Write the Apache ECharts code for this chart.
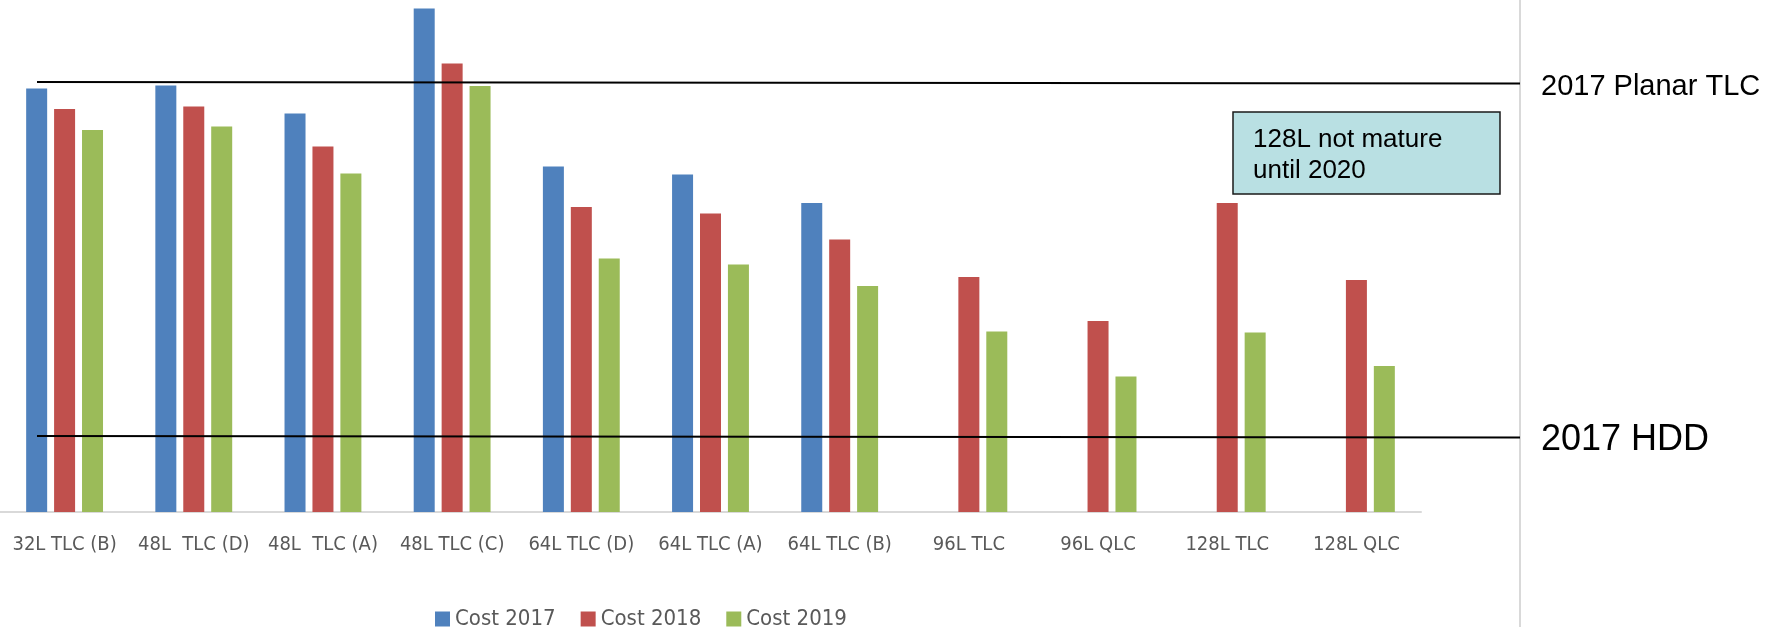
<!DOCTYPE html>
<html>
<head>
<meta charset="utf-8">
<script src="https://cdn.jsdelivr.net/npm/echarts@6/dist/echarts.min.js"></script>
<style>
  html, body { margin: 0; padding: 0; background: #fff; }
  #chart { width: 1779px; height: 627px; }
</style>
</head>
<body>
<div id="chart"></div>
<script>
// categories and values (relative cost)
var categories = ['32L TLC (B)', '48L  TLC (D)', '48L  TLC (A)', '48L TLC (C)', '64L TLC (D)',
                  '64L TLC (A)', '64L TLC (B)', '96L TLC', '96L QLC', '128L TLC', '128L QLC'];
var cost2017 = [84.7, 85.3, 79.7, 100.7, 69.1, 67.5, 61.8, null, null, null, null];
var cost2018 = [80.6, 81.1, 73.1, 89.7, 61.0, 59.7, 54.5, 47.0, 38.2, 61.8, 46.4];
var cost2019 = [76.4, 77.1, 67.7, 85.2, 50.7, 49.5, 45.2, 36.1, 27.1, 35.9, 29.2];

// reference levels (left end / right end, the lines are drawn slightly tilted)
var refNames = ['2017 Planar TLC', '2017 HDD'];
var refStart = [86.0, 15.2];
var refEnd = [85.7, 14.9];
var noteText = '128L not mature\nuntil 2020';

var labelFont = '"Liberation Sans Narrow", "DejaVu Sans Condensed", "Liberation Sans", sans-serif';
var myChart = echarts.init(document.getElementById('chart'));

myChart.setOption({
    animation: false,
    color: ['#4f81bd', '#c0504d', '#9bbb59'],
    grid: { left: 0, right: 358, top: 2, bottom: 115, containLabel: false, outerBoundsMode: 'none' },
    legend: {
        left: 430,
        top: 603,
        icon: 'rect',
        itemWidth: 15,
        itemHeight: 15,
        itemGap: 25,
        textStyle: { color: '#595959', fontSize: 22, fontFamily: labelFont },
        data: ['Cost 2017', 'Cost 2018', 'Cost 2019']
    },
    xAxis: {
        type: 'category',
        data: categories,
        axisLine: { lineStyle: { color: '#d9d9d9', width: 2 } },
        axisTick: { show: false },
        axisLabel: { color: '#595959', fontSize: 20, fontFamily: labelFont, margin: 23, interval: 0 }
    },
    yAxis: {
        type: 'value',
        min: 0,
        max: 102,
        show: false,
        splitLine: { show: false }
    },
    series: [
        { name: 'Cost 2017', type: 'bar', barWidth: 21, barGap: '33%', data: cost2017 },
        { name: 'Cost 2018', type: 'bar', barWidth: 21, barGap: '33%', data: cost2018 },
        { name: 'Cost 2019', type: 'bar', barWidth: 21, barGap: '33%', data: cost2019 }
    ]
});

// reference lines through the y scale, plus labels and note box
var lineX0 = 37, lineX1 = 1520;
var elements = [
    { type: 'line', shape: { x1: 1520, y1: 0, x2: 1520, y2: 627 }, style: { stroke: '#d9d9d9', lineWidth: 2 } }
];
var labelSizes = [29, 36];
for (var i = 0; i < refNames.length; i++) {
    var y0 = myChart.convertToPixel({ yAxisIndex: 0 }, refStart[i]);
    var y1 = myChart.convertToPixel({ yAxisIndex: 0 }, refEnd[i]);
    elements.push({ type: 'line', z: 10, shape: { x1: lineX0, y1: y0, x2: lineX1, y2: y1 },
                    style: { stroke: '#000', lineWidth: 2 } });
    elements.push({ type: 'text', z: 10, x: 1541, y: y1 + 3,
                    style: { text: refNames[i], fill: '#000', fontSize: labelSizes[i],
                             fontFamily: '"Liberation Sans", Arial, sans-serif', verticalAlign: 'middle' } });
}
elements.push({ type: 'rect', z: 10, shape: { x: 1233, y: 112, width: 267, height: 82 },
                style: { fill: '#b9e0e3', stroke: '#1a1a1a', lineWidth: 1.5 } });
elements.push({ type: 'text', z: 11, x: 1253, y: 124,
                style: { text: noteText, fill: '#000', fontSize: 26, lineHeight: 31,
                         fontFamily: '"Liberation Sans", Arial, sans-serif' } });
myChart.setOption({ graphic: elements });
</script>
</body>
</html>
